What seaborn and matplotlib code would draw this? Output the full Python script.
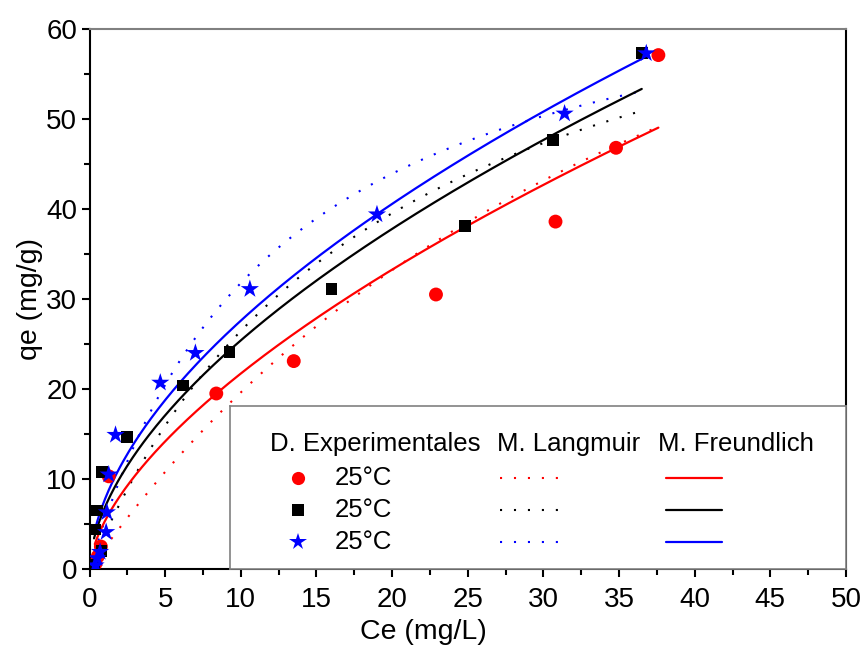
import numpy as np
import pandas as pd
import matplotlib
matplotlib.use("Agg")
import matplotlib.pyplot as plt
import seaborn as sns
from matplotlib.lines import Line2D

sns.set_theme(style="white")
plt.rcParams['font.family'] = ['Liberation Sans', 'DejaVu Sans']
plt.rcParams['text.color'] = 'black'
plt.rcParams['axes.labelcolor'] = 'black'

# ---------------- data ----------------
red_ce = [0.40, 0.55, 0.75, 1.27, 8.38, 13.5, 22.9, 30.8, 34.8, 37.6]
red_qe = [0.6, 1.4, 2.5, 10.3, 19.5, 23.1, 30.5, 38.6, 46.8, 57.1]

black_ce = [0.30, 0.80, 0.40, 0.50, 0.83, 2.48, 6.18, 9.25, 16.0, 24.8, 30.65, 36.5]
black_qe = [0.5, 2.0, 4.4, 6.5, 10.8, 14.7, 20.4, 24.1, 31.1, 38.1, 47.7, 57.3]

blue_ce = [0.40, 0.50, 0.70, 1.10, 1.15, 1.27, 1.72, 4.68, 7.0, 10.6, 19.0, 31.4, 36.8]
blue_qe = [0.4, 1.2, 1.9, 4.1, 6.3, 10.5, 14.9, 20.7, 24.0, 31.1, 39.4, 50.6, 57.3]

series_colors = ["#FF0000", "#000000", "#0000FF"]
series_markers = ["o", "s", "*"]
series_labels = ["25°C", "25°C", "25°C"]

# fitted model parameters
langmuir_qm = [108.0, 78.2, 71.1]
langmuir_kl = [0.0222, 0.0511, 0.0808]
freundlich_kf = [5.27, 6.79, 7.67]
freundlich_inv_n = [0.615, 0.573, 0.556]
curve_xmin = [0.35, 0.30, 0.30]
curve_xmax = [37.6, 36.5, 36.8]

legend_headers = ["D. Experimentales", "M. Langmuir", "M. Freundlich"]
x_ticks = [0, 5, 10, 15, 20, 25, 30, 35, 40, 45, 50]
y_ticks = [0, 10, 20, 30, 40, 50, 60]

# ---------------- figure ----------------
W, H = 866, 649
fig = plt.figure(figsize=(W / 100, H / 100), dpi=100)
L, R, T, B = 89.5, 846, 29, 569
ax = fig.add_axes([L / W, 1 - B / H, (R - L) / W, (B - T) / H])

dot_style = (0, (1, 5.7))

# model curves
for i in range(3):
    xs = np.linspace(curve_xmin[i], curve_xmax[i], 300)
    y_l = langmuir_qm[i] * langmuir_kl[i] * xs / (1 + langmuir_kl[i] * xs)
    y_f = freundlich_kf[i] * xs ** freundlich_inv_n[i]
    df_l = pd.DataFrame({"Ce": xs, "qe": y_l})
    df_f = pd.DataFrame({"Ce": xs, "qe": y_f})
    sns.lineplot(data=df_l, x="Ce", y="qe", ax=ax, color=series_colors[i],
                 linestyle=dot_style, linewidth=1.5, estimator=None, sort=False,
                 zorder=2)
    sns.lineplot(data=df_f, x="Ce", y="qe", ax=ax, color=series_colors[i],
                 linewidth=1.6, estimator=None, sort=False, zorder=3)

# experimental points
for ce, qe, c, m, s in [(red_ce, red_qe, series_colors[0], "o", 100),
                        (black_ce, black_qe, series_colors[1], "s", 72),
                        (blue_ce, blue_qe, series_colors[2], "*", 190)]:
    sns.scatterplot(x=ce, y=qe, ax=ax, color=c, marker=m, s=s,
                    edgecolor="none", linewidth=0, zorder=4)

ax.set_xlim(0, 50)
ax.set_ylim(0, 60)
ax.set_xticks(x_ticks)
ax.set_yticks(y_ticks)
ax.set_xticks(np.arange(2.5, 50, 5), minor=True)
ax.set_yticks(np.arange(5, 60, 10), minor=True)
ax.tick_params(axis="both", which="major", direction="out", length=6, width=1.5,
               labelsize=20, color="black", labelcolor="black", pad=3,
               bottom=True, left=True)
ax.tick_params(axis="x", which="major", pad=7)
ax.tick_params(axis="both", which="minor", direction="out", length=4, width=1.5,
               color="black", bottom=True, left=True)
ax.set_xlabel("Ce (mg/L)", fontsize=20.5, color="black")
ax.set_ylabel("qe (mg/g)", fontsize=20.5, color="black")
ax.xaxis.set_label_coords(0.441, -0.093)
ax.yaxis.set_label_coords(-0.062, 0.5)
for sp in ["left", "bottom", "right"]:
    ax.spines[sp].set_color("black")
    ax.spines[sp].set_linewidth(1.5)
ax.spines["top"].set_color("#808080")
ax.spines["top"].set_linewidth(1.5)
ax.grid(False)

# ---------------- legend box ----------------
lx0, lx1, ly0, ly1 = 230, 846, 406, 569
lax = fig.add_axes([lx0 / W, 1 - ly1 / H, (lx1 - lx0) / W, (ly1 - ly0) / H])
lax.set_xlim(0, lx1 - lx0)
lax.set_ylim(ly1 - ly0, 0)
lax.set_xticks([])
lax.set_yticks([])
lax.set_facecolor("white")
for sp in lax.spines.values():
    sp.set_color("#808080")
    sp.set_linewidth(1.2)

def px(x):
    return x - lx0

def py(y):
    return y - ly0

lfs = 18.5
lax.text(px(270), py(444), legend_headers[0], fontsize=lfs, va="center", ha="left", color="black")
lax.text(px(497), py(444), legend_headers[1], fontsize=lfs, va="center", ha="left", color="black")
lax.text(px(658), py(444), legend_headers[2], fontsize=lfs, va="center", ha="left", color="black")
rows = [478, 510, 542]
msz = [9.5, 8.5, 13]
for i, yy in enumerate(rows):
    lax.add_line(Line2D([px(298)], [py(yy)], marker=series_markers[i], color=series_colors[i],
                        markersize=msz[i], linestyle="none", markeredgewidth=0))
    lax.text(px(335), py(yy), series_labels[i], fontsize=lfs, va="center", ha="left", color="black")
    lax.add_line(Line2D([px(500), px(558)], [py(yy), py(yy)], color=series_colors[i],
                        linestyle=dot_style, linewidth=1.5))
    lax.add_line(Line2D([px(666), px(722)], [py(yy), py(yy)], color=series_colors[i],
                        linewidth=1.6))

fig.savefig("out.png", dpi=100)
